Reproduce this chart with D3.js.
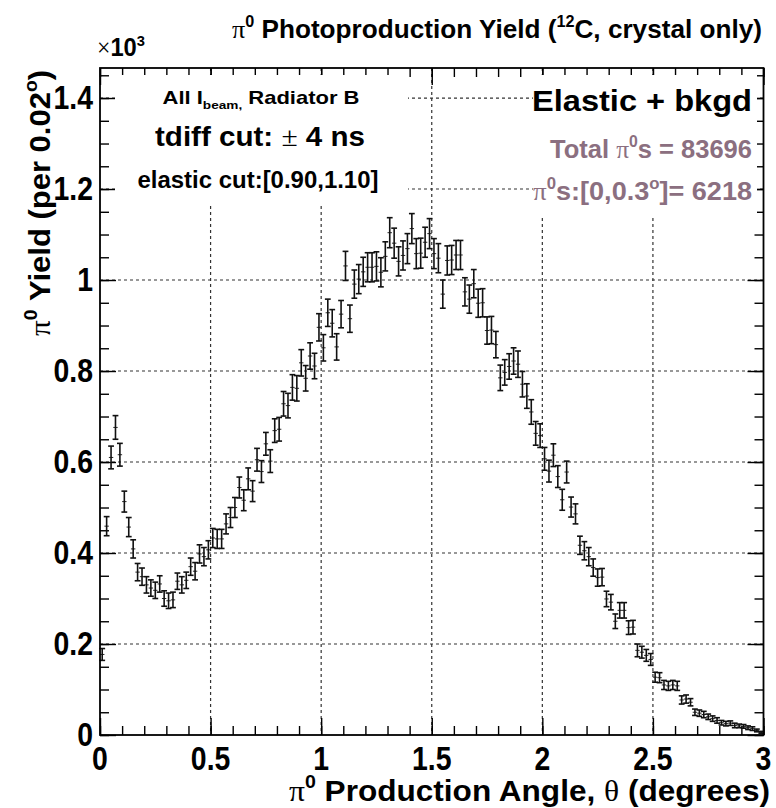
<!DOCTYPE html>
<html>
<head>
<meta charset="utf-8">
<script src="https://cdn.jsdelivr.net/npm/d3@7"></script>
<style>
  html, body { margin: 0; padding: 0; background: #fff; }
  svg { display: block; }
</style>
</head>
<body>
<script>
// ---------------- data ----------------
const binWidth = 0.02;          // degrees per bin
const binStart = 0;             // first bin low edge
// pi0 yield per bin (x10^3)
const yields = [
  0.177,0.459,0.610,0.676,0.616,0.513,0.457,0.409,0.358,0.348,
  0.330,0.323,0.318,0.332,0.300,0.295,0.297,0.338,0.330,0.340,
  0.370,0.360,0.398,0.392,0.407,0.433,0.431,0.431,0.464,0.478,
  0.500,0.544,0.516,0.563,0.536,0.605,0.579,0.640,0.602,0.669,
  0.672,0.728,0.724,0.764,0.762,0.818,0.784,0.833,0.811,0.896,
  0.851,0.928,0.905,0.853,0.925,1.031,0.915,0.991,1.002,1.018,
  1.028,1.028,1.030,1.017,1.052,1.104,1.081,1.041,1.054,1.069,
  1.113,1.058,1.059,1.083,1.102,1.058,1.048,0.969,1.043,1.044,
  1.055,1.055,0.974,0.958,0.992,0.949,0.950,0.889,0.890,0.858,
  0.785,0.797,0.810,0.822,0.815,0.771,0.745,0.710,0.663,0.658,
  0.607,0.580,0.615,0.568,0.517,0.578,0.501,0.486,0.417,0.405,
  0.392,0.368,0.346,0.347,0.299,0.292,0.250,0.274,0.274,0.236,
  0.237,0.186,0.182,0.175,0.166,0.127,0.126,0.110,0.108,0.110,
  0.108,0.077,0.079,0.072,0.050,0.048,0.045,0.040,0.036,0.032,
  0.027,0.025,0.026,0.021,0.020,0.019,0.016,0.014,0.010,0.006
];
// error bar half-lengths (x10^3)
const yieldErrors = [
  0.013,0.021,0.025,0.026,0.025,0.023,0.021,0.020,0.019,0.019,
  0.018,0.018,0.018,0.018,0.017,0.017,0.017,0.018,0.018,0.018,
  0.019,0.019,0.020,0.020,0.020,0.021,0.021,0.021,0.022,0.022,
  0.022,0.023,0.023,0.024,0.023,0.025,0.024,0.025,0.025,0.026,
  0.026,0.027,0.027,0.028,0.028,0.029,0.028,0.029,0.028,0.030,
  0.029,0.030,0.030,0.029,0.030,0.032,0.030,0.031,0.032,0.032,
  0.032,0.032,0.032,0.032,0.032,0.033,0.033,0.032,0.032,0.033,
  0.033,0.033,0.033,0.033,0.033,0.033,0.032,0.031,0.032,0.032,
  0.032,0.032,0.031,0.031,0.031,0.031,0.031,0.030,0.030,0.029,
  0.028,0.028,0.028,0.029,0.029,0.028,0.027,0.027,0.026,0.026,
  0.025,0.024,0.025,0.024,0.023,0.024,0.022,0.022,0.020,0.020,
  0.020,0.019,0.019,0.019,0.017,0.017,0.016,0.017,0.017,0.015,
  0.015,0.014,0.013,0.013,0.013,0.011,0.011,0.010,0.010,0.010,
  0.010,0.009,0.009,0.008,0.007,0.007,0.007,0.006,0.006,0.006,
  0.005,0.005,0.005,0.005,0.004,0.004,0.004,0.004,0.003,0.002
];
const xTickValues = [0, 0.5, 1, 1.5, 2, 2.5, 3];
const xTickLabels = ["0", "0.5", "1", "1.5", "2", "2.5", "3"];
const yTickValues = [0, 0.2, 0.4, 0.6, 0.8, 1.0, 1.2, 1.4];
const yTickLabels = ["0", "0.2", "0.4", "0.6", "0.8", "1", "1.2", "1.4"];
const xDomain = [0, 3];
const yDomain = [0, 1.466];

// ---------------- layout ----------------
const W = 776, H = 808;
const L = 100, R = 763.5, T = 68, B = 735;
const SANS = "'Liberation Sans', Arial, Helvetica, sans-serif";
const SERIF = "'Liberation Serif', 'DejaVu Serif', serif";
const MAUVE = "#8b6f80";

const svg = d3.select("body").append("svg").attr("width", W).attr("height", H);
svg.append("rect").attr("width", W).attr("height", H).attr("fill", "#fff");

const x = d3.scaleLinear().domain(xDomain).range([L, R]);
const y = d3.scaleLinear().domain(yDomain).range([B, T]);

// grid
const grid = svg.append("g").attr("stroke", "#333").attr("stroke-width", 1.2).attr("stroke-dasharray", "3,3");
grid.selectAll(".gx").data(xTickValues.filter(v => v > 0 && v < 3)).join("line")
  .attr("x1", d => x(d)).attr("x2", d => x(d)).attr("y1", T).attr("y2", B);
grid.selectAll(".gy").data(yTickValues.filter(v => v > 0)).join("line")
  .attr("x1", L).attr("x2", R).attr("y1", d => y(d)).attr("y2", d => y(d));

// ticks via d3 axes (inward)
const minorX = d3.range(0, 3.0001, 0.1);
const minorY = d3.range(0, 1.4501, 0.05);
function tickAxis(axis, transform) {
  const g = svg.append("g").attr("transform", transform).call(axis);
  g.select(".domain").remove();
  g.selectAll("text").remove();
  g.selectAll("line").attr("stroke", "#000").attr("stroke-width", 1.4);
}
tickAxis(d3.axisBottom(x).tickValues(xTickValues).tickSize(-17), `translate(0,${B})`);
tickAxis(d3.axisBottom(x).tickValues(minorX).tickSize(-9), `translate(0,${B})`);
tickAxis(d3.axisTop(x).tickValues(xTickValues).tickSize(-17), `translate(0,${T})`);
tickAxis(d3.axisTop(x).tickValues(minorX).tickSize(-9), `translate(0,${T})`);
tickAxis(d3.axisLeft(y).tickValues(yTickValues).tickSize(-16), `translate(${L},0)`);
tickAxis(d3.axisLeft(y).tickValues(minorY).tickSize(-9), `translate(${L},0)`);
tickAxis(d3.axisRight(y).tickValues(yTickValues).tickSize(-16), `translate(${R},0)`);
tickAxis(d3.axisRight(y).tickValues(minorY).tickSize(-9), `translate(${R},0)`);

// data: histogram with error bars
const bins = yields.map((v, i) => ({ lo: binStart + i * binWidth, v, e: yieldErrors[i] }));
const dg = svg.append("g").attr("stroke", "#111").attr("fill", "none");
const pt = dg.selectAll("g.pt").data(bins).join("g").attr("class", "pt");
const cx = d => x(d.lo + binWidth / 2);
pt.append("line").attr("stroke-width", 1.6)
  .attr("x1", cx).attr("x2", cx).attr("y1", d => y(d.v - d.e)).attr("y2", d => y(d.v + d.e));
pt.append("line").attr("stroke-width", 1.6)
  .attr("x1", d => cx(d) - 2.9).attr("x2", d => cx(d) + 2.9).attr("y1", d => y(d.v + d.e)).attr("y2", d => y(d.v + d.e));
pt.append("line").attr("stroke-width", 1.6)
  .attr("x1", d => cx(d) - 2.9).attr("x2", d => cx(d) + 2.9).attr("y1", d => y(d.v - d.e)).attr("y2", d => y(d.v - d.e));
pt.append("line").attr("stroke-width", 0.9)
  .attr("x1", d => x(d.lo)).attr("x2", d => x(d.lo + binWidth)).attr("y1", d => y(d.v)).attr("y2", d => y(d.v));

// white info boxes (cover grid)
svg.append("rect").attr("x", 115).attr("y", 75).attr("width", 293).attr("height", 128).attr("fill", "#fff");
svg.append("rect").attr("x", 533).attr("y", 75).attr("width", 224).attr("height", 140).attr("fill", "#fff");

// frame
svg.append("rect").attr("x", L).attr("y", T).attr("width", R - L).attr("height", B - T)
  .attr("fill", "none").attr("stroke", "#000").attr("stroke-width", 1.8);

// rich text helper
function rich(o, segs) {
  const t = svg.append("text").attr("x", o.x).attr("y", o.y)
    .attr("text-anchor", o.anchor || "start")
    .attr("font-family", SANS).attr("font-weight", o.weight || "bold")
    .attr("font-size", o.size).attr("fill", o.fill || "#000");
  if (o.rotate) t.attr("transform", `rotate(-90 ${o.x} ${o.y})`);
  if (o.len) t.attr("textLength", o.len).attr("lengthAdjust", "spacingAndGlyphs");
  let shift = 0;
  segs.forEach(s => {
    const sp = t.append("tspan").text(s.t);
    const target = s.sup ? -0.42 * o.size : s.sub ? 0.28 * o.size : 0;
    if (target !== shift) { sp.attr("dy", target - shift); shift = target; }
    if (s.sup || s.sub) sp.attr("font-size", o.size * 0.62);
    if (s.greek) sp.attr("font-family", SERIF).attr("font-weight", "normal");
  });
  return t;
}

// tick labels (slightly condensed, as in the reference)
const CONDENSE = 0.86;
function condense(sel) {
  sel.each(function () {
    const w = this.getComputedTextLength();
    d3.select(this).attr("textLength", w * CONDENSE).attr("lengthAdjust", "spacingAndGlyphs");
  });
}
svg.append("g").selectAll("text").data(xTickValues).join("text")
  .attr("x", d => x(d)).attr("y", 770).attr("text-anchor", "middle")
  .attr("font-family", SANS).attr("font-weight", "bold").attr("font-size", 33)
  .text((d, i) => xTickLabels[i]).call(condense);
svg.append("g").selectAll("text").data(yTickValues).join("text")
  .attr("x", 93).attr("y", d => y(d) + 11).attr("text-anchor", "end")
  .attr("font-family", SANS).attr("font-weight", "bold").attr("font-size", 33)
  .text((d, i) => yTickLabels[i]).call(condense);

// x10^3
rich({ x: 97, y: 56, size: 25, len: 48 }, [{ t: "×", greek: true }, { t: "10" }, { t: "3", sup: true }]);

// title
rich({ x: 232, y: 38, size: 26, len: 530 }, [
  { t: "π", greek: true }, { t: "0", sup: true }, { t: " Photoproduction Yield (" },
  { t: "12", sup: true }, { t: "C, crystal only)" }
]);

// axis titles
rich({ x: 770, y: 801, anchor: "end", size: 30, len: 481 }, [
  { t: "π", greek: true }, { t: "0", sup: true }, { t: " Production Angle, " },
  { t: "θ", greek: true }, { t: " (degrees)" }
]);
rich({ x: 50, y: 336, size: 30, rotate: true, len: 266 }, [
  { t: "π", greek: true }, { t: "0", sup: true }, { t: " Yield (per 0.02" },
  { t: "o", sup: true }, { t: ")" }
]);

// left info box
rich({ x: 261, y: 104, anchor: "middle", size: 19, len: 197 }, [
  { t: "All I" }, { t: "beam,", sub: true }, { t: " Radiator B" }
]);
rich({ x: 260, y: 146, anchor: "middle", size: 27, len: 210 }, [
  { t: "tdiff cut: " }, { t: "±", greek: true }, { t: " 4 ns" }
]);
rich({ x: 258, y: 188, anchor: "middle", size: 23, len: 241 }, [
  { t: "elastic cut:[0.90,1.10]" }
]);

// right info box
rich({ x: 752, y: 111, anchor: "end", size: 30, len: 220 }, [{ t: "Elastic + bkgd" }]);
rich({ x: 752, y: 158, anchor: "end", size: 26, len: 202, fill: MAUVE }, [
  { t: "Total " }, { t: "π", greek: true }, { t: "0", sup: true }, { t: "s = 83696" }
]);
rich({ x: 752, y: 200, anchor: "end", size: 26, len: 219, fill: MAUVE }, [
  { t: "π", greek: true }, { t: "0", sup: true }, { t: "s:[0,0.3" }, { t: "o", sup: true }, { t: "]= 6218" }
]);
</script>
</body>
</html>
